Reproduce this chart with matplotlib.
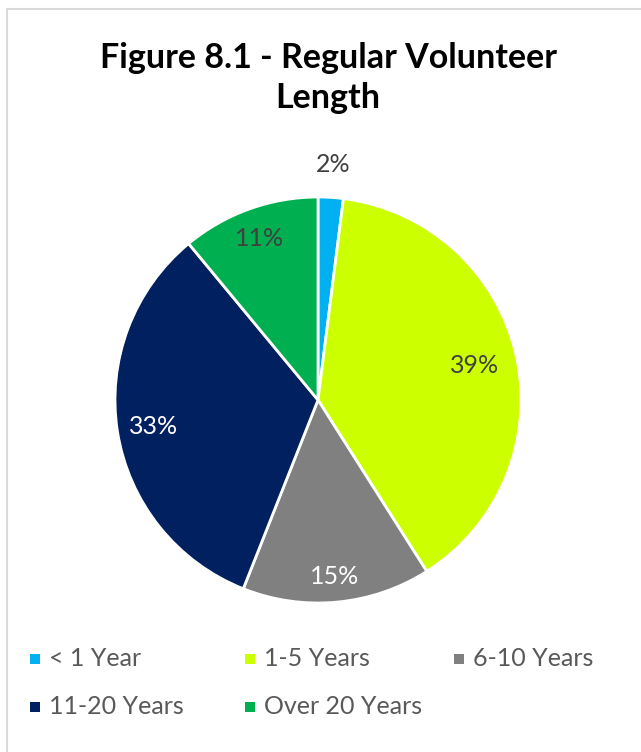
import matplotlib.pyplot as plt
import numpy as np

labels = ["< 1 Year", "1-5 Years", "6-10 Years", "11-20 Years", "Over 20 Years"]
values = [2, 39, 15, 33, 11]
colors = ["#00B0F0", "#CCFF00", "#808080", "#002060", "#00B050"]
label_colors = ["#404040", "#404040", "#FFFFFF", "#FFFFFF", "#404040"]
label_radius = [1.16, 0.79, 0.875, 0.82, 0.845]

# legend grid in pixels (row-major, 3 per row)
leg_x = [35, 250, 459]
leg_y = [659, 707]

W, H = 641, 752
plt.rcParams['font.family'] = ['Lato', 'DejaVu Sans']

fig = plt.figure(figsize=(W / 100, H / 100), dpi=100)

# light grey chart-area border (runs off the right and bottom edges)
fig.patches.append(plt.Rectangle((7 / W, -0.1), 1.0, 1 - 9 / H + 0.1,
                                 transform=fig.transFigure, fill=False,
                                 edgecolor="#D9D9D9", linewidth=1.5))

ax = fig.add_axes([(318 - 203) / W, (H - 603) / H, 406 / W, 406 / H])
wedges, _ = ax.pie(values, colors=colors, startangle=90, counterclock=False,
                   radius=1, wedgeprops=dict(edgecolor="white", linewidth=2))
ax.set_xlim(-1, 1)
ax.set_ylim(-1, 1)
ax.set_aspect("equal")

for w, v, c, r in zip(wedges, values, label_colors, label_radius):
    ang = np.deg2rad((w.theta1 + w.theta2) / 2)
    ax.text(r * np.cos(ang), r * np.sin(ang), f"{v}%", ha="center", va="center",
            fontsize=18, color=c)

fig.text(328 / W, 1 - 78 / H, "Figure 8.1 - Regular Volunteer\nLength",
         ha="center", va="center", fontsize=24.5, fontweight="bold",
         linespacing=1.3, color="black")

# legend drawn entry by entry so it reads row by row
for i, (lab, col) in enumerate(zip(labels, colors)):
    px = leg_x[i % 3]
    py = leg_y[i // 3]
    fig.patches.append(plt.Rectangle(((px - 5) / W, 1 - (py + 5) / H), 10 / W, 10 / H,
                                     transform=fig.transFigure, facecolor=col,
                                     edgecolor="none"))
    fig.text((px + 14) / W, 1 - py / H, lab, ha="left", va="center",
             fontsize=18, color="#595959")

fig.savefig("out.png", dpi=100)
